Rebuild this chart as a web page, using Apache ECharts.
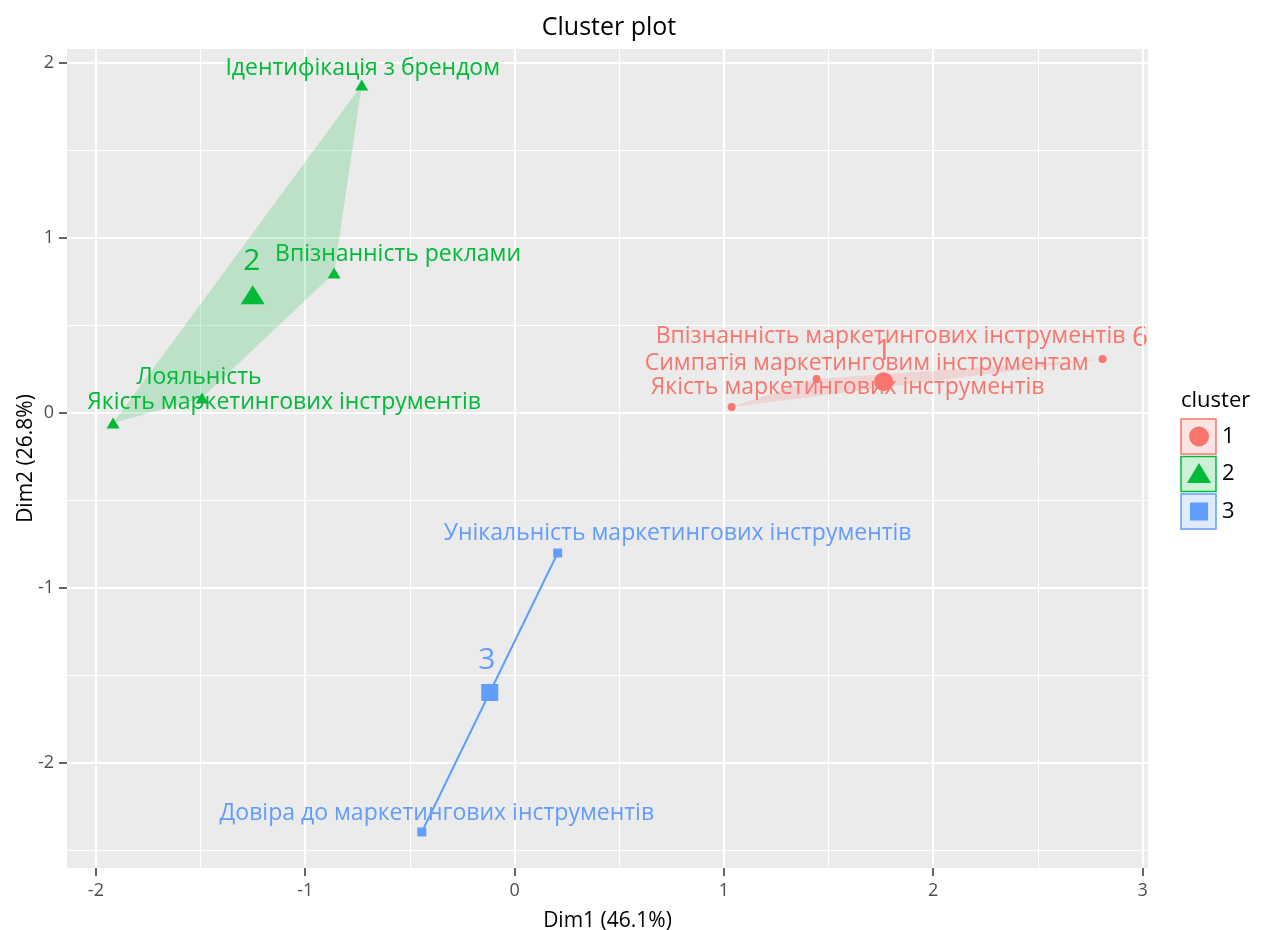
<!DOCTYPE html>
<html>
<head>
<meta charset="utf-8">
<title>Cluster plot</title>
<script src="https://cdn.jsdelivr.net/npm/echarts@6/dist/echarts.min.js"></script>
<style>
  html, body { margin: 0; padding: 0; background: #ffffff; }
  #chart { width: 1267px; height: 930px; }
</style>
</head>
<body>
<div id="chart"></div>
<script>
// ---- Data: PCA coordinates of variables, grouped by k-means cluster ----
const clusterIds = ['1', '2', '3'];
const clusterColors = ['#F8766D', '#00BA38', '#619CFF'];

const cluster1Labels = [
  'Впізнанність маркетингових інструментів',
  'Симпатія маркетинговим інструментам',
  'Якість маркетингових інструментів'
];
const cluster1Dim1 = [2.809, 1.443, 1.037];
const cluster1Dim2 = [0.308, 0.193, 0.033];

const cluster2Labels = [
  'Ідентифікація з брендом',
  'Впізнанність реклами',
  'Лояльність',
  'Якість маркетингових інструментів'
];
const cluster2Dim1 = [-0.730, -0.862, -1.493, -1.918];
const cluster2Dim2 = [1.874, 0.799, 0.085, -0.058];

const cluster3Labels = [
  'Унікальність маркетингових інструментів',
  'Довіра до маркетингових інструментів'
];
const cluster3Dim1 = [0.206, -0.443];
const cluster3Dim2 = [-0.802, -2.397];

// Axis ticks and grid lines
const xTicks = [-2, -1, 0, 1, 2, 3];
const yTicks = [-2, -1, 0, 1, 2];
const xMinor = [-1.5, -0.5, 0.5, 1.5, 2.5];
const yMinor = [-2.5, -1.5, -0.5, 0.5, 1.5];

// Label placement (pixel offsets from each point, repelled text)
const cluster1Offsets = [[-212, -22], [50, -16], [116, -20]];
const cluster2Offsets = [[1, -17], [64, -19], [-3, -20], [171, -20]];
const cluster3Offsets = [[120, -20], [15, -19]];
const centerOffsets = [[0, -30], [-1, -33], [-3, -32]];

const FONT = 'Open Sans';

const clusters = [
  { labels: cluster1Labels, x: cluster1Dim1, y: cluster1Dim2, offsets: cluster1Offsets, symbol: 'circle', small: 8, big: 19 },
  { labels: cluster2Labels, x: cluster2Dim1, y: cluster2Dim2, offsets: cluster2Offsets, symbol: 'triangle', small: [13, 11], big: [24, 19] },
  { labels: cluster3Labels, x: cluster3Dim1, y: cluster3Dim2, offsets: cluster3Offsets, symbol: 'rect', small: 9, big: 17 }
];

function mean(a) { return a.reduce((s, v) => s + v, 0) / a.length; }

function hexToRgba(hex, a) {
  const n = parseInt(hex.slice(1), 16);
  return 'rgba(' + ((n >> 16) & 255) + ',' + ((n >> 8) & 255) + ',' + (n & 255) + ',' + a + ')';
}

// Monotone-chain convex hull
function convexHull(points) {
  const p = points.slice().sort((a, b) => a[0] - b[0] || a[1] - b[1]);
  if (p.length < 3) return p;
  const cross = (o, a, b) => (a[0] - o[0]) * (b[1] - o[1]) - (a[1] - o[1]) * (b[0] - o[0]);
  const lower = [];
  for (const pt of p) {
    while (lower.length >= 2 && cross(lower[lower.length - 2], lower[lower.length - 1], pt) <= 0) lower.pop();
    lower.push(pt);
  }
  const upper = [];
  for (let i = p.length - 1; i >= 0; i--) {
    const pt = p[i];
    while (upper.length >= 2 && cross(upper[upper.length - 2], upper[upper.length - 1], pt) <= 0) upper.pop();
    upper.push(pt);
  }
  upper.pop(); lower.pop();
  return lower.concat(upper);
}

const series = [];

// Panel grid lines (major + minor), drawn beneath everything
function gridLines(values, key, width) {
  return values.map(v => ({ [key]: v, lineStyle: { color: '#ffffff', width: width, type: 'solid' } }));
}
series.push({
  type: 'scatter',
  data: [],
  z: 0,
  silent: true,
  markLine: {
    z: 0,
    silent: true,
    symbol: ['none', 'none'],
    label: { show: false },
    animation: false,
    data: [].concat(
      gridLines(xMinor, 'xAxis', 1),
      gridLines(yMinor, 'yAxis', 1),
      gridLines(xTicks, 'xAxis', 2.2),
      gridLines(yTicks, 'yAxis', 2.2)
    )
  }
});

// Convex hulls
clusters.forEach((c, ci) => {
  const pts = c.x.map((v, i) => [v, c.y[i]]);
  const hull = convexHull(pts);
  series.push({
    type: 'custom',
    z: 1,
    silent: true,
    clip: true,
    data: [[mean(c.x), mean(c.y)]],
    renderItem: function (params, api) {
      const px = hull.map(p => api.coord(p));
      if (px.length === 2) {
        return { type: 'polyline', shape: { points: px }, style: { stroke: clusterColors[ci], lineWidth: 2, fill: null } };
      }
      return { type: 'polygon', shape: { points: px }, style: { fill: hexToRgba(clusterColors[ci], 0.2), stroke: null } };
    }
  });
});

// Variable points with labels
clusters.forEach((c, ci) => {
  series.push({
    type: 'scatter',
    z: 3,
    symbol: c.symbol,
    symbolSize: c.small,
    itemStyle: { color: clusterColors[ci], opacity: 1 },
    label: {
      show: true,
      position: 'inside',
      formatter: p => p.name,
      color: clusterColors[ci],
      textBorderWidth: 0,
      textBorderColor: 'transparent',
      fontFamily: FONT,
      fontSize: 23
    },
    data: c.x.map((v, i) => ({
      name: c.labels[i],
      value: [v, c.y[i]],
      label: { offset: c.offsets[i] }
    }))
  });
});

// Cluster centres
clusters.forEach((c, ci) => {
  series.push({
    type: 'scatter',
    z: 4,
    symbol: c.symbol,
    symbolSize: c.big,
    itemStyle: { color: clusterColors[ci], opacity: 1 },
    label: {
      show: true,
      position: 'inside',
      formatter: clusterIds[ci],
      offset: centerOffsets[ci],
      color: clusterColors[ci],
      textBorderWidth: 0,
      textBorderColor: 'transparent',
      fontFamily: FONT,
      fontSize: 30
    },
    data: [{ name: clusterIds[ci], value: [mean(c.x), mean(c.y)] }]
  });
});

// Legend (ggplot-style keys)
const legendGraphics = [
  { type: 'text', left: 1181, top: 390, style: { text: 'cluster', font: '22px "' + FONT + '"', fill: '#000' } }
];
clusterIds.forEach((id, i) => {
  const top = 419 + i * 37.5;
  const cx = 1199, cy = top + 17.5, col = clusterColors[i];
  legendGraphics.push({ type: 'rect', shape: { x: 1181, y: top, width: 35, height: 35 }, style: { fill: hexToRgba(col, 0.2), stroke: col, lineWidth: 1.5 } });
  if (i === 0) legendGraphics.push({ type: 'circle', shape: { cx: cx, cy: cy, r: 10 }, style: { fill: col } });
  if (i === 1) legendGraphics.push({ type: 'polygon', shape: { points: [[cx - 12, cy + 9], [cx + 12, cy + 9], [cx, cy - 11]] }, style: { fill: col } });
  if (i === 2) legendGraphics.push({ type: 'rect', shape: { x: cx - 9, y: cy - 9, width: 18, height: 18 }, style: { fill: col } });
  legendGraphics.push({ type: 'text', x: 1222, y: cy, style: { text: id, font: '22px "' + FONT + '"', fill: '#000', textVerticalAlign: 'middle' } });
});

const chart = echarts.init(document.getElementById('chart'), null, { renderer: 'canvas' });
chart.setOption({
  animation: false,
  backgroundColor: '#ffffff',
  textStyle: { fontFamily: FONT },
  grid: {
    left: 67, right: 119, top: 49, bottom: 62,
    containLabel: false,
    outerBoundsMode: 'none',
    show: true, backgroundColor: '#EBEBEB', borderWidth: 0
  },
  xAxis: {
    type: 'value',
    position: 'bottom',
    min: -2.138,
    max: 3.026,
    name: 'Dim1 (46.1%)',
    nameLocation: 'middle',
    nameGap: 43,
    nameMoveOverlap: false,
    nameTextStyle: { fontSize: 21, color: '#000', fontFamily: FONT },
    axisLine: { show: false, onZero: false },
    splitLine: { show: false },
    axisTick: { show: true, customValues: xTicks, length: 8, lineStyle: { color: '#333', width: 1.5 } },
    axisLabel: { customValues: xTicks, margin: 14, color: '#4D4D4D', fontSize: 18, fontFamily: FONT }
  },
  yAxis: {
    type: 'value',
    position: 'left',
    min: -2.603,
    max: 2.080,
    name: 'Dim2 (26.8%)',
    nameLocation: 'middle',
    nameGap: 30,
    nameMoveOverlap: false,
    nameRotate: 90,
    nameTextStyle: { fontSize: 21, color: '#000', fontFamily: FONT },
    axisLine: { show: false, onZero: false },
    splitLine: { show: false },
    axisTick: { show: true, customValues: yTicks, length: 8, lineStyle: { color: '#333', width: 1.5 } },
    axisLabel: { customValues: yTicks, margin: 13, color: '#4D4D4D', fontSize: 18, fontFamily: FONT }
  },
  graphic: [
    { type: 'text', x: 609, y: 28, style: { text: 'Cluster plot', font: '25px "' + FONT + '"', fill: '#000', textAlign: 'center', textVerticalAlign: 'middle' } },
    { type: 'text', x: 1140, y: 338, style: { text: '6', font: '28px "' + FONT + '"', fill: '#F8766D', textAlign: 'center', textVerticalAlign: 'middle' } }
  ].concat(legendGraphics),
  series: series
});
</script>
</body>
</html>
